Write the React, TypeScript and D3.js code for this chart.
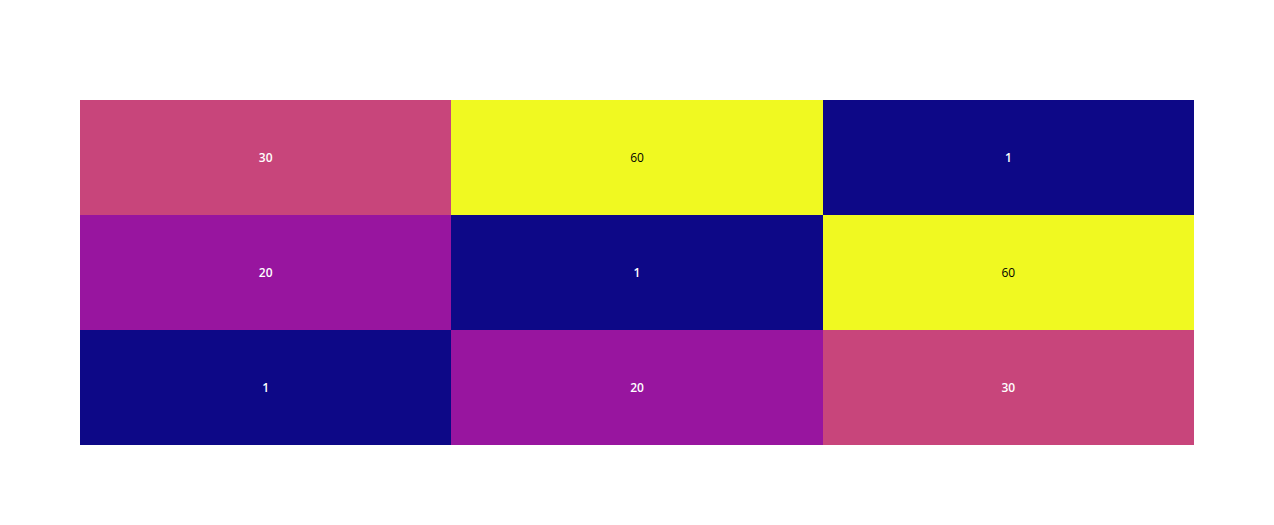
import React from "react";
import * as d3 from "d3";

const xCategories = ["0", "1", "2"];
const yCategories = ["0", "1", "2"]; // bottom to top
// z[row][col], row 0 = bottom
const zRows = [
  [1, 20, 30],
  [20, 1, 60],
  [30, 60, 1],
];
const plasmaStops = ["#0d0887", "#46039f", "#7201a8", "#9c179e", "#bd3786", "#d8576b", "#ed7953", "#fb9f3a", "#fdca26", "#f0f921"];

const W = 1274, H = 525;
const M = { l: 80, r: 80, t: 100, b: 80 };

export default function App() {
  const x = d3.scaleBand().domain(xCategories).range([M.l, W - M.r]).padding(0);
  const y = d3.scaleBand().domain(yCategories).range([H - M.b, M.t]).padding(0);
  const flat = zRows.flat();
  const zmin = d3.min(flat)!, zmax = d3.max(flat)!;
  const interp = d3.piecewise(d3.interpolateRgb, plasmaStops);
  const color = (v: number) => interp((v - zmin) / (zmax - zmin));
  const isLight = (c: string) => {
    const rgb = d3.rgb(c);
    const lum = 0.299 * rgb.r + 0.587 * rgb.g + 0.114 * rgb.b;
    return lum > 128;
  };
  const cells: { xi: string; yi: string; v: number }[] = [];
  zRows.forEach((row, ri) => row.forEach((v, ci) => cells.push({ xi: xCategories[ci], yi: yCategories[ri], v })));
  return (
    <svg width={W} height={H} style={{ position: "absolute", left: 0, top: 0, background: "#fff" }}>
      {cells.map((c, i) => (
        <rect key={"r" + i} x={x(c.xi)} y={y(c.yi)} width={x.bandwidth()} height={y.bandwidth()} fill={color(c.v)} shapeRendering="crispEdges" />
      ))}
      {cells.map((c, i) => {
        const light = isLight(color(c.v));
        return (
          <text key={"t" + i} x={x(c.xi)! + x.bandwidth() / 2} y={y(c.yi)! + y.bandwidth() / 2} dy="0.35em" textAnchor="middle"
            fontFamily="'Open Sans', verdana, arial, sans-serif" fontSize={12} fontWeight={light ? 400 : 600}
            fill={light ? "#000" : "#fff"}>
            {c.v}
          </text>
        );
      })}
    </svg>
  );
}
